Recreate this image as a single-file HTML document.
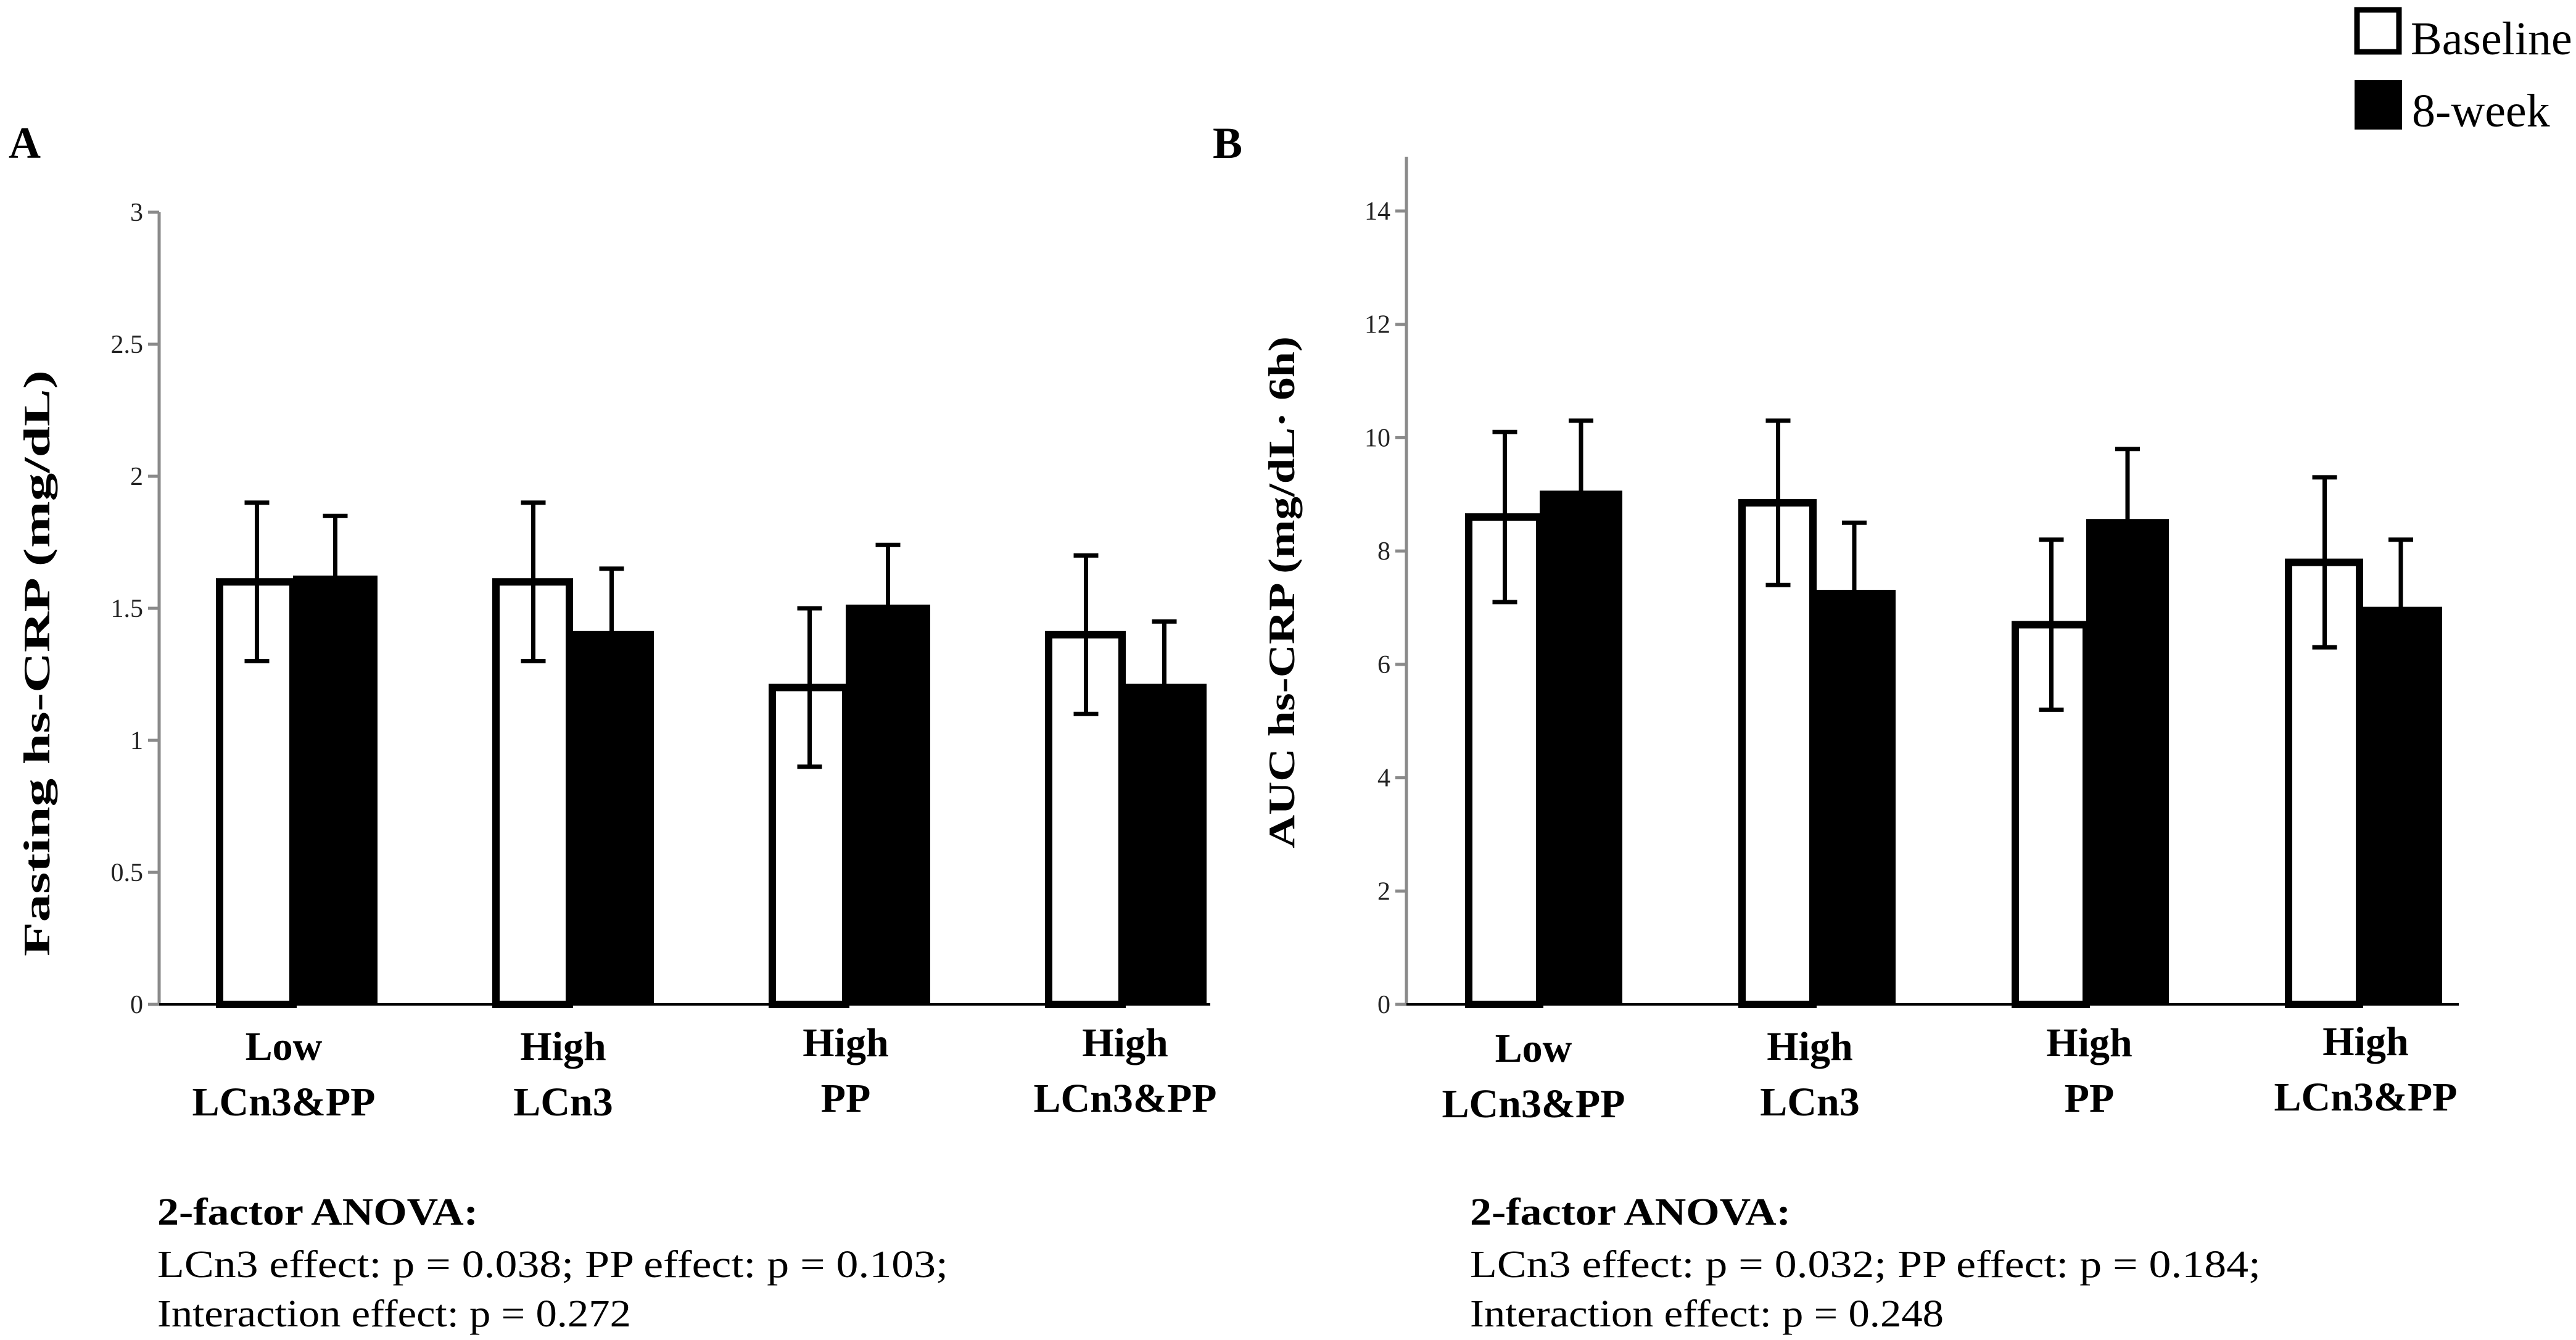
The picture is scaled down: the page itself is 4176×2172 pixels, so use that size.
<!DOCTYPE html>
<html><head><meta charset="utf-8"><style>
html,body{margin:0;padding:0;background:#fff;}
svg{display:block;}
text{font-family:"Liberation Serif",serif;}
</style></head><body>
<svg id="fig" width="4176" height="2172" viewBox="0 0 4176 2172" xmlns="http://www.w3.org/2000/svg">
<g id="panelA"></g>
<g id="panelB"></g>
<g>
  <rect x="3821" y="16" width="68" height="68" fill="#fff" stroke="#000" stroke-width="9"/>
  <text x="3908" y="88" font-size="76">Baseline</text>
  <rect x="3817" y="130" width="77" height="80" fill="#000"/>
  <text x="3910" y="205" font-size="76">8-week</text>
</g>
<text x="14" y="256" font-size="72" font-weight="bold">A</text>
<text x="1966" y="256" font-size="72" font-weight="bold">B</text>
<g font-size="62">
  <text x="255" y="1985" font-weight="bold" textLength="520" lengthAdjust="spacingAndGlyphs">2-factor ANOVA:</text>
  <text x="255" y="2070" textLength="1282" lengthAdjust="spacingAndGlyphs">LCn3 effect: p = 0.038; PP effect: p = 0.103;</text>
  <text x="255" y="2150" textLength="768" lengthAdjust="spacingAndGlyphs">Interaction effect: p = 0.272</text>
</g>
<g font-size="62">
  <text x="2383" y="1985" font-weight="bold" textLength="520" lengthAdjust="spacingAndGlyphs">2-factor ANOVA:</text>
  <text x="2383" y="2070" textLength="1282" lengthAdjust="spacingAndGlyphs">LCn3 effect: p = 0.032; PP effect: p = 0.184;</text>
  <text x="2383" y="2150" textLength="768" lengthAdjust="spacingAndGlyphs">Interaction effect: p = 0.248</text>
</g>
</svg>
<script>
const categoriesL1 = ["Low","High","High","High"];
const categoriesL2 = ["LCn3&PP","LCn3","PP","LCn3&PP"];
const baselineA = [1.6, 1.6, 1.2, 1.4];
const baselineErrA = [0.3, 0.3, 0.3, 0.3];
const weekA = [1.61, 1.4, 1.5, 1.2];
const weekErrA = [0.24, 0.25, 0.24, 0.25];
const ticksA = [0, 0.5, 1, 1.5, 2, 2.5, 3];
const baselineB = [8.6, 8.85, 6.7, 7.8];
const baselineErrB = [1.5, 1.45, 1.5, 1.5];
const weekB = [9.0, 7.25, 8.5, 6.95];
const weekErrB = [1.3, 1.25, 1.3, 1.25];
const ticksB = [0, 2, 4, 6, 8, 10, 12, 14];

const NS = "http://www.w3.org/2000/svg";
function mk(parent, tag, attrs, txt){
  const e = document.createElementNS(NS, tag);
  for (const k in attrs) e.setAttribute(k, attrs[k]);
  if (txt !== undefined) e.textContent = txt;
  parent.appendChild(e);
  return e;
}
function drawPanel(g, cfg){
  const y = v => cfg.y0 - (v - 0) / cfg.max * (cfg.y0 - cfg.yTop);
  const x = i => cfg.x0 + i * cfg.step;
  // y axis
  let ax = mk(g, "line", {x1:cfg.ax, y1:cfg.axTop, x2:cfg.ax, y2:cfg.y0, stroke:"#8a8a8a", "stroke-width":5});
  
  
  cfg.ticks.forEach(t => {
    const tk = mk(g, "line", {x1:cfg.ax-18, y1:y(t), x2:cfg.ax, y2:y(t), stroke:"#8a8a8a", "stroke-width":5});
    
    
    const tl = mk(g, "text", {x:cfg.ax-26, y:y(t)+14, "font-size":42, "text-anchor":"end", fill:"#222"}, String(t));
    
    
  });
  let xa = mk(g, "line", {x1:cfg.ax, y1:cfg.y0, x2:cfg.xEnd, y2:cfg.y0, stroke:"#000", "stroke-width":4});
  
  
  for (let i = 0; i < cfg.base.length; i++){
    const bx = x(i);
    const wb = mk(g, "rect", {x:bx+6, y:y(cfg.base[i]), width:cfg.bw-6, height:cfg.y0-y(cfg.base[i]), fill:"#fff", stroke:"#000", "stroke-width":12});
    
    
    const kb = mk(g, "rect", {x:bx+cfg.bw, y:y(cfg.week[i])-6, width:cfg.bw2, height:cfg.y0-y(cfg.week[i])+6, fill:"#000"});
    
    
    const errs = [[bx+cfg.bw/2+4, cfg.base[i], cfg.baseErr[i]], [bx+cfg.bw+cfg.bw2/2, cfg.week[i], cfg.weekErr[i]]];
    errs.forEach(e => {
      const eb = mk(g, "path", {d:`M${e[0]},${y(e[1]+e[2])}V${y(e[1]-e[2])}M${e[0]-20},${y(e[1]+e[2])}h40M${e[0]-20},${y(e[1]-e[2])}h40`, stroke:"#000", "stroke-width":7, fill:"none"});
      
      
    });
    const cx = bx + cfg.bw + cfg.labOff[i];
    const l1 = mk(g, "text", {x:cx, y:cfg.y0+cfg.lab1[i], "font-size":66, "font-weight":"bold", "text-anchor":"middle"}, categoriesL1[i]);
    
    
    const l2 = mk(g, "text", {x:cx, y:cfg.y0+cfg.lab1[i]+90, "font-size":66, "font-weight":"bold", "text-anchor":"middle"}, categoriesL2[i]);
    
    
  }
  const yt = mk(g, "text", {x:0, y:0, "font-size":60, "font-weight":"bold", "text-anchor":"middle", transform:`translate(${cfg.titleX},${cfg.titleY}) rotate(-90)`, textLength:cfg.titleLen, lengthAdjust:"spacingAndGlyphs"}, cfg.title);
  
  
}
drawPanel(document.getElementById("panelA"), {
  y0:1628, yTop:344, max:3, ax:258, axTop:344, xEnd:1962, x0:350, step:448, bw:125, bw2:137,
  ticks:ticksA, base:baselineA, baseErr:baselineErrA, week:weekA, weekErr:weekErrA,
  labOff:[-15,-10,0,5], lab1:[90,90,84,84],
  title:"Fasting hs-CRP (mg/dL)", titleX:80, titleY:1075, titleLen:950
});
drawPanel(document.getElementById("panelB"), {
  y0:1628, yTop:342, max:14, ax:2280, axTop:254, xEnd:3986, x0:2375, step:443, bw:121, bw2:134,
  ticks:ticksB, base:baselineB, baseErr:baselineErrB, week:weekB, weekErr:weekErrB,
  labOff:[-10,-5,5,10], lab1:[93,90,84,82],
  title:"AUC hs-CRP (mg/dL· 6h)", titleX:2098, titleY:960, titleLen:830
});
</script>
</body></html>
